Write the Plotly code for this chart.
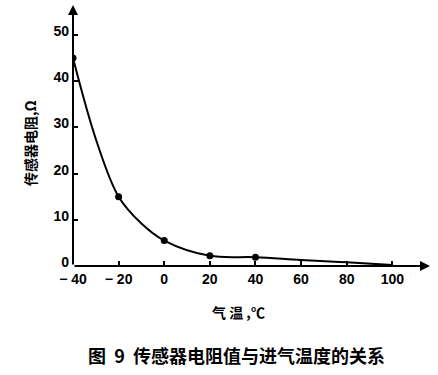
import plotly.graph_objects as go

# data
curve_temps = [-40, -30, -20, -10, 0, 20, 40, 60, 80, 100]
curve_resist = [45, 27.5, 15, 9.2, 5.5, 2.2, 1.9, 1.3, 0.8, 0.2]
meas_temps = [-40, -20, 0, 20, 40]
meas_resist = [45, 15, 5.5, 2.2, 1.9]
x_ticks = [-40, -20, 0, 20, 40, 60, 80, 100]
x_tick_text = ["− 40", "− 20", "0", "20", "40", "60", "80", "100"]
y_ticks = [0, 10, 20, 30, 40, 50]

font_family = "Liberation Sans, DejaVu Sans, Noto Sans CJK SC"
cjk = "Noto Sans CJK SC"

W, H = 438, 375
L, R, T, B = 73, 8, 5, 109
pw, ph = W - L - R, H - T - B
def px(x):
    return (x - L) / pw
def py(y):
    return (H - B - y) / ph

fig = go.Figure()
fig.add_trace(go.Scatter(x=curve_temps, y=curve_resist, mode="lines",
                         line=dict(color="black", width=2, shape="spline", smoothing=1.0),
                         hoverinfo="skip"))
fig.add_trace(go.Scatter(x=meas_temps, y=meas_resist, mode="markers",
                         marker=dict(color="black", size=7)))

fig.update_xaxes(range=[-40, 116.5], tickvals=x_ticks, ticktext=x_tick_text,
                 ticks="inside", ticklen=5, tickcolor="black", tickwidth=1.5,
                 showgrid=False, zeroline=False, showline=False, automargin=False,
                 ticklabelstandoff=3,
                 tickfont=dict(family=font_family, size=14, color="black", weight="bold"))
fig.update_yaxes(range=[0, 56.5], tickvals=y_ticks,
                 ticks="inside", ticklen=5, tickcolor="black", tickwidth=1.5,
                 showgrid=False, zeroline=False, showline=False, automargin=False,
                 ticklabelstandoff=3, ticklabelshift=-4,
                 tickfont=dict(family=font_family, size=14, color="black", weight="bold"))

# axes drawn as arrows
fig.add_annotation(x=116.5, y=0, ax=-40, ay=0, xref="x", yref="y", axref="x", ayref="y",
                   showarrow=True, arrowhead=2, arrowsize=1, arrowwidth=2, arrowcolor="black", text="")
fig.add_annotation(x=-40, y=56.5, ax=-40, ay=0, xref="x", yref="y", axref="x", ayref="y",
                   showarrow=True, arrowhead=2, arrowsize=1, arrowwidth=2, arrowcolor="black", text="")

fig.add_annotation(x=px(30), y=py(143), xref="paper", yref="paper", xanchor="center", yanchor="middle",
                   text="传感器电阻,Ω", textangle=-90, showarrow=False,
                   font=dict(family=cjk, size=14, color="black", weight="bold"))
fig.add_annotation(x=px(238), y=py(312), xref="paper", yref="paper", xanchor="center", yanchor="middle",
                   showarrow=False, text="气 温 ,℃",
                   font=dict(family=cjk, size=14, color="black", weight="bold"))
fig.add_annotation(x=px(236), y=py(355), xref="paper", yref="paper", xanchor="center", yanchor="middle",
                   showarrow=False, text="图  9  传感器电阻值与进气温度的关系",
                   font=dict(family=cjk, size=18, color="black", weight="bold"))

fig.update_layout(width=W, height=H, margin=dict(l=L, r=R, t=T, b=B),
                  paper_bgcolor="white", plot_bgcolor="white", showlegend=False)

fig.write_html("out.html", config={"displayModeBar": False},
               post_script="document.body.style.margin='0px';")
